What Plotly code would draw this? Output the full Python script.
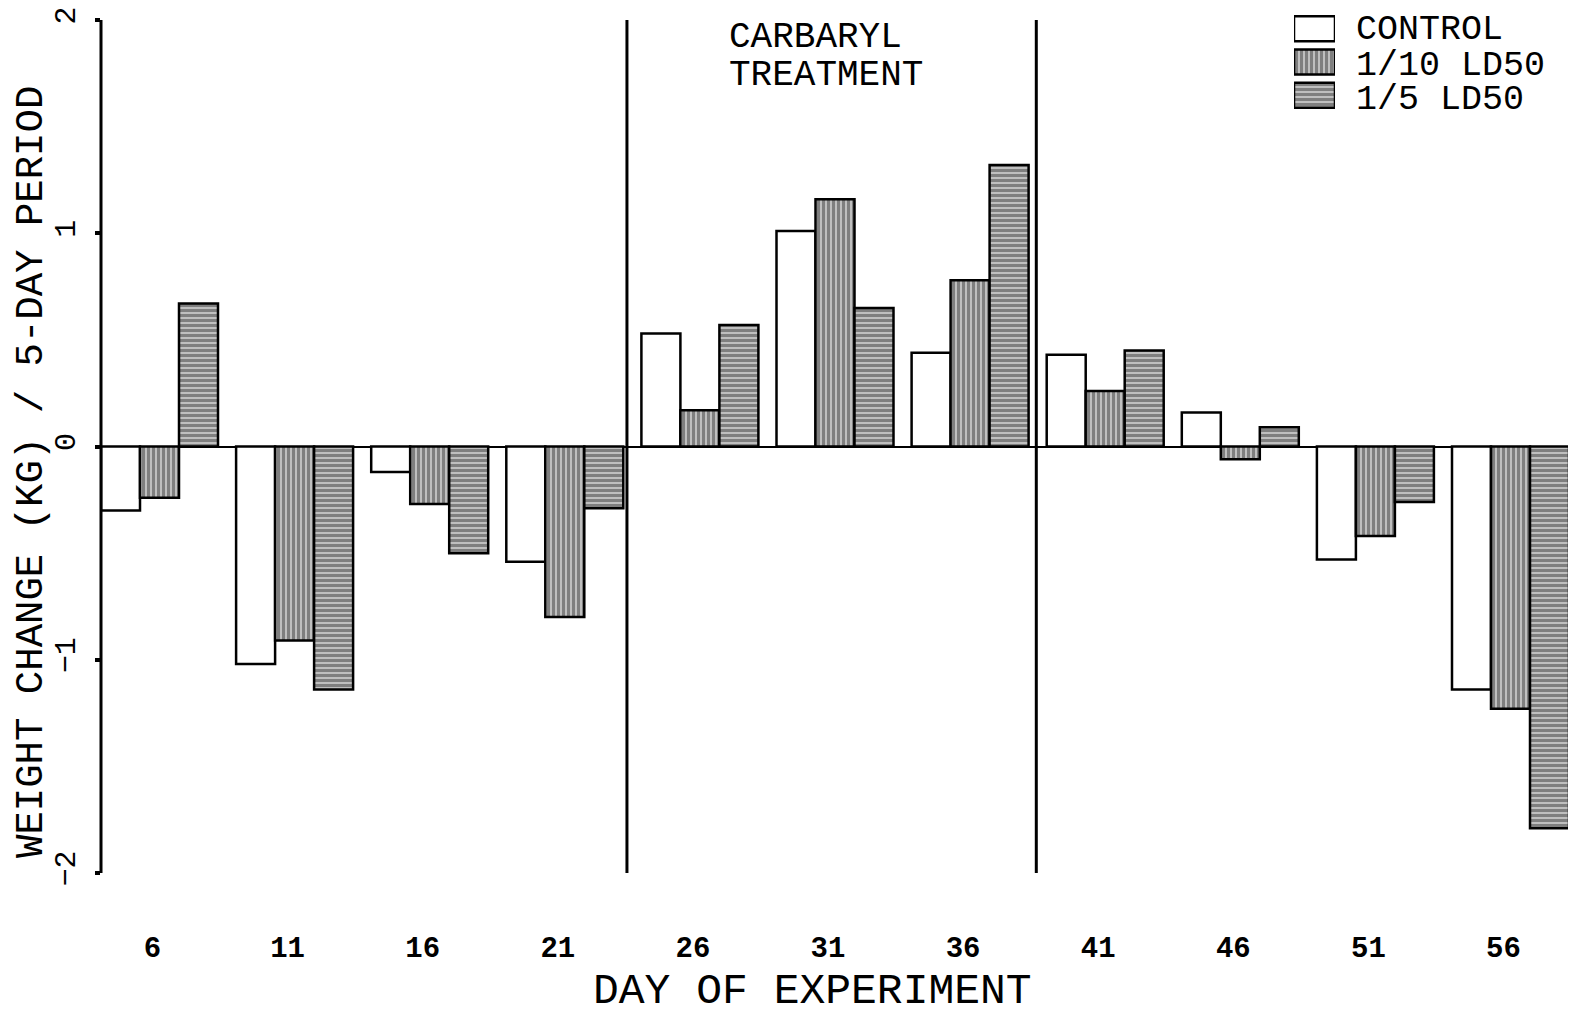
import plotly.graph_objects as go

# Day of experiment (start of each 5-day period)
days = [6, 11, 16, 21, 26, 31, 36, 41, 46, 51, 56]

# Weight change (kg) per 5-day period
control = [-0.30, -1.02, -0.12, -0.54, 0.53, 1.01, 0.44, 0.43, 0.16, -0.53, -1.14]
tenth_ld50 = [-0.24, -0.91, -0.27, -0.80, 0.17, 1.16, 0.78, 0.26, -0.06, -0.42, -1.23]
fifth_ld50 = [0.67, -1.14, -0.50, -0.29, 0.57, 0.65, 1.32, 0.45, 0.09, -0.26, -1.79]

series_names = ["CONTROL", "1/10 LD50", "1/5 LD50"]
patterns = ["", "|", "-"]

# Carbaryl treatment window (marked by the vertical lines)
treatment_start = 23.3
treatment_end = 38.45

FONT = "Liberation Mono, DejaVu Sans Mono, monospace"

# page is 1576x1017 but the html body has an 8px margin
PAGE_W, PAGE_H = 1576, 1017
OFF = 8
FIG_W, FIG_H = PAGE_W - OFF, PAGE_H - OFF

# plot area edges in page pixels (top extended to fit the key)
PL, PR, PT, PB = 101, 1569, 8, 873
Y2_PIX = 20  # page y of value 2
L, T = PL - OFF, PT - OFF
R, B = FIG_W - (PR - OFF), FIG_H - (PB - OFF)
PW, PH = PR - PL, PB - PT
y_scale = (PB - Y2_PIX) / 4.0
y_top = 2 + (Y2_PIX - PT) / y_scale


def px_x(px):
    return (px - PL) / PW


def px_y(py):
    return (PB - py) / PH


PATTERN_STYLE = dict(fgcolor="black", bgcolor="white", size=5, solidity=0.8)


def bar_marker(pattern):
    m = dict(color="white", line=dict(color="black", width=2.5))
    if pattern:
        m["pattern"] = dict(shape=pattern, **PATTERN_STYLE)
    return m


fig = go.Figure()

for name, vals, pat in zip(series_names, [control, tenth_ld50, fifth_ld50], patterns):
    fig.add_trace(go.Bar(x=days, y=vals, name=name, marker=bar_marker(pat),
                         showlegend=False))

# legend key drawn as small bars in an inset axis
fig.add_trace(go.Bar(
    x=[1, 1, 1], y=series_names, orientation="h", width=0.75,
    xaxis="x2", yaxis="y2", showlegend=False, hoverinfo="skip",
    marker=dict(
        color="white", line=dict(color="black", width=2.5),
        pattern=dict(shape=patterns, **PATTERN_STYLE),
    ),
))
key_rows = [30, 66, 100]
for name, yc in zip(series_names, key_rows):
    fig.add_annotation(text=name, xref="paper", yref="paper",
                       x=px_x(1354), y=px_y(yc), xanchor="left", yanchor="middle",
                       showarrow=False, font=dict(family=FONT, size=35, color="black"))

# y axis line (only from -2 to 2)
fig.add_shape(type="line", xref="paper", yref="y", x0=0, x1=0, y0=-2, y1=2,
              line=dict(color="black", width=3))

# treatment period boundaries
for xv in (treatment_start, treatment_end):
    fig.add_shape(type="line", xref="x", yref="y", x0=xv, x1=xv, y0=-2, y1=2,
                  line=dict(color="black", width=3))

fig.add_annotation(text="CARBARYL", xref="paper", yref="paper",
                   x=px_x(727), y=px_y(37), xanchor="left", yanchor="middle",
                   showarrow=False, font=dict(family=FONT, size=36, color="black"))
fig.add_annotation(text="TREATMENT", xref="paper", yref="paper",
                   x=px_x(727), y=px_y(76), xanchor="left", yanchor="middle",
                   showarrow=False, font=dict(family=FONT, size=36, color="black"))

# y axis title
fig.add_annotation(text="WEIGHT CHANGE (KG) / 5-DAY PERIOD", xref="paper", yref="paper",
                   x=px_x(32), y=px_y(472), xanchor="center", yanchor="middle",
                   textangle=-90, showarrow=False,
                   font=dict(family=FONT, size=39, color="black"))

# x axis title
fig.add_annotation(text="DAY OF EXPERIMENT", xref="paper", yref="paper",
                   x=px_x(812), y=px_y(991), xanchor="center", yanchor="middle",
                   showarrow=False, font=dict(family=FONT, size=43, color="black"))

bar_gap = 0.134
half_group = 5 * (1 - bar_gap) / 2

fig.update_layout(
    width=FIG_W, height=FIG_H,
    margin=dict(l=L, r=R, t=T, b=B, autoexpand=False),
    barmode="group", bargap=bar_gap, bargroupgap=0,
    plot_bgcolor="white", paper_bgcolor="white",
    font=dict(family=FONT, color="black"),
    showlegend=False,
    xaxis=dict(
        range=[days[0] - half_group, days[-1] + half_group],
        tickmode="array", tickvals=days, ticktext=[str(d) for d in days],
        showline=False, showgrid=False, zeroline=False, ticks="",
        tickfont=dict(family=FONT, size=29, color="black", weight="bold"),
        ticklabelstandoff=54, ticklabelshift=-7,
    ),
    yaxis=dict(
        range=[-2, y_top], tickmode="array", tickvals=[-2, -1, 0, 1, 2],
        showline=False,
        ticks="outside", ticklen=5, tickwidth=4, tickcolor="black",
        showgrid=False, zeroline=True, zerolinecolor="black", zerolinewidth=2,
        tickangle=-90, tickfont=dict(family=FONT, size=30, color="black"),
        ticklabelstandoff=8, ticklabeloverflow="allow",
    ),
    xaxis2=dict(domain=[px_x(1294), px_x(1335)], anchor="y2", range=[0, 1],
                visible=False, fixedrange=True),
    yaxis2=dict(domain=[px_y(112), px_y(12)], anchor="x2", visible=False,
                autorange="reversed", fixedrange=True),
)

fig.write_html("out.html")
